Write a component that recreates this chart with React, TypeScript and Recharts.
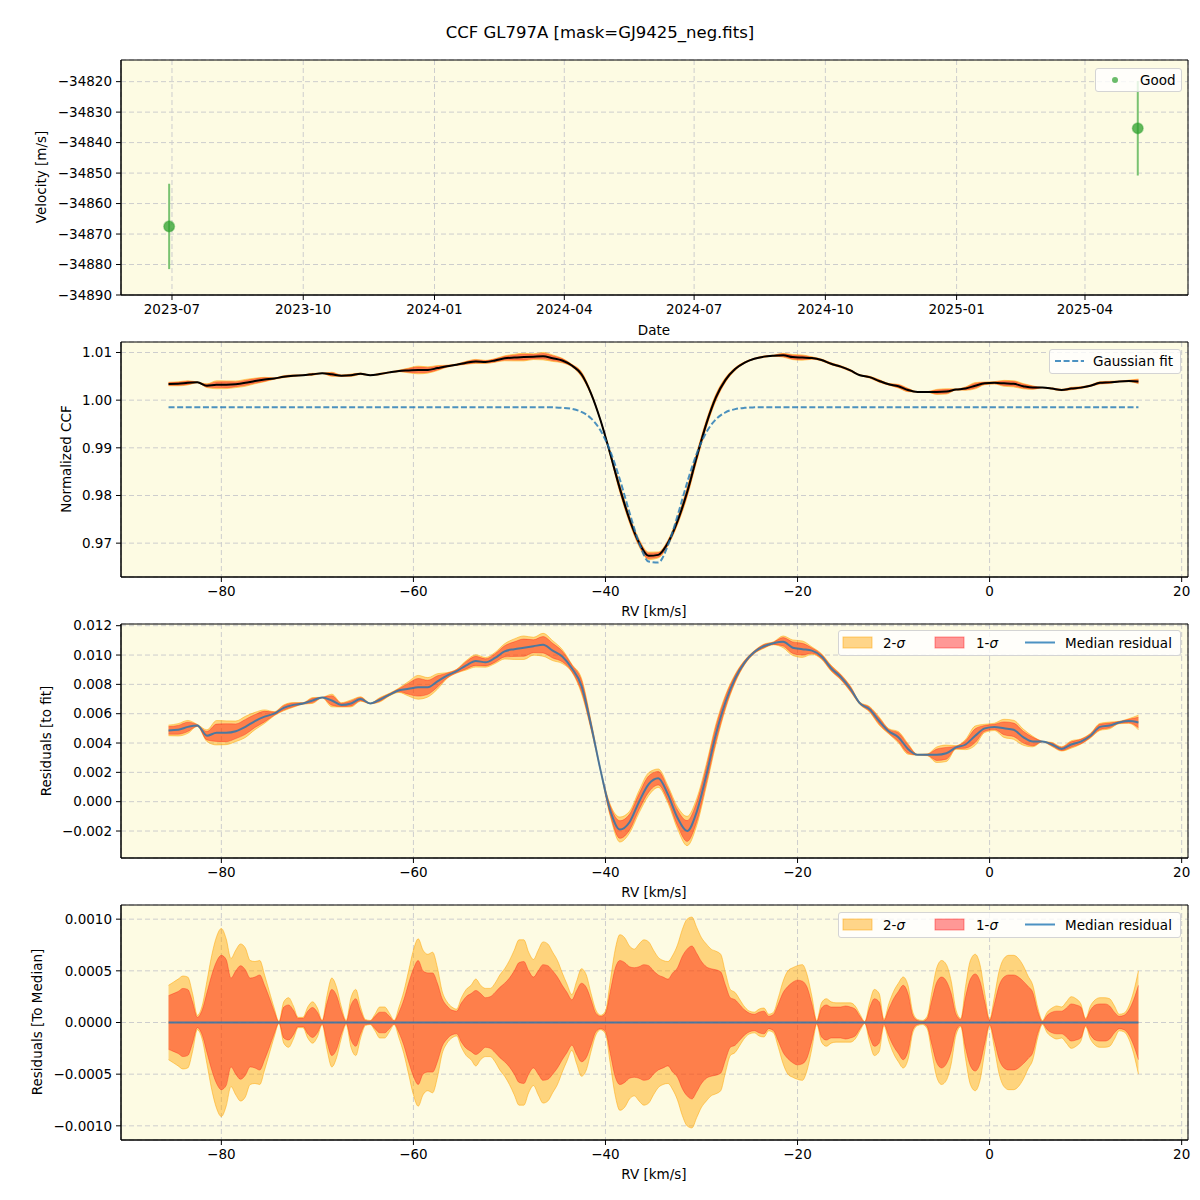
import React from 'react';
import {
  ComposedChart,
  Line,
  Area,
  Scatter,
  ErrorBar,
  XAxis,
  YAxis,
  ZAxis,
  CartesianGrid,
  ReferenceArea,
} from 'recharts';

// ---- top panel: velocity per epoch ----
const obsDates = ['2023-06-29', '2025-05-08'];
const obsVelocity = [-34867.5, -34835.3];
const obsError = [14.0, 15.5];
const dateTicks = [
  '2023-07-01', '2023-10-01', '2024-01-01', '2024-04-01',
  '2024-07-01', '2024-10-01', '2025-01-01', '2025-04-01',
];
const velTicks = [-34890, -34880, -34870, -34860, -34850, -34840, -34830, -34820];

// ---- CCF grid (0.5 km/s) and spread of the CCFs around the median, in units of 1e-4 ----
const rvFine = [
  -85.5, -85, -84.5, -84, -83.5, -83, -82.5, -82, -81.5, -81,
  -80.5, -80, -79.5, -79, -78.5, -78, -77.5, -77, -76.5, -76,
  -75.5, -75, -74.5, -74, -73.5, -73, -72.5, -72, -71.5, -71,
  -70.5, -70, -69.5, -69, -68.5, -68, -67.5, -67, -66.5, -66,
  -65.5, -65, -64.5, -64, -63.5, -63, -62.5, -62, -61.5, -61,
  -60.5, -60, -59.5, -59, -58.5, -58, -57.5, -57, -56.5, -56,
  -55.5, -55, -54.5, -54, -53.5, -53, -52.5, -52, -51.5, -51,
  -50.5, -50, -49.5, -49, -48.5, -48, -47.5, -47, -46.5, -46,
  -45.5, -45, -44.5, -44, -43.5, -43, -42.5, -42, -41.5, -41,
  -40.5, -40, -39.5, -39, -38.5, -38, -37.5, -37, -36.5, -36,
  -35.5, -35, -34.5, -34, -33.5, -33, -32.5, -32, -31.5, -31,
  -30.5, -30, -29.5, -29, -28.5, -28, -27.5, -27, -26.5, -26,
  -25.5, -25, -24.5, -24, -23.5, -23, -22.5, -22, -21.5, -21,
  -20.5, -20, -19.5, -19, -18.5, -18, -17.5, -17, -16.5, -16,
  -15.5, -15, -14.5, -14, -13.5, -13, -12.5, -12, -11.5, -11,
  -10.5, -10, -9.5, -9, -8.5, -8, -7.5, -7, -6.5, -6,
  -5.5, -5, -4.5, -4, -3.5, -3, -2.5, -2, -1.5, -1,
  -0.5, 0, 0.5, 1, 1.5, 2, 2.5, 3, 3.5, 4,
  4.5, 5, 5.5, 6, 6.5, 7, 7.5, 8, 8.5, 9,
  9.5, 10, 10.5, 11, 11.5, 12, 12.5, 13, 13.5, 14,
  14.5, 15, 15.5,
];
const sigma2 = [
  3.6, 3.9, 4.2, 4.5, 4.4, 2.8, 0.7, 1.6, 4.0, 6.5,
  8.3, 9.1, 8.1, 6.2, 7.0, 7.6, 7.2, 6.0, 5.9, 6.0,
  4.6, 3.0, 1.4, 0.1, 2.0, 2.4, 1.6, 0.5, 0.5, 1.5,
  2.0, 1.4, 0.2, 2.6, 4.3, 3.4, 1.5, 0.2, 2.4, 3.2,
  1.5, 0.3, 0.2, 0.8, 1.5, 1.5, 0.9, 0.2, 1.5, 3.0,
  5.0, 7.0, 8.1, 7.0, 6.6, 6.8, 5.3, 3.0, 2.0, 1.5,
  1.3, 2.4, 3.2, 3.6, 4.2, 3.6, 3.3, 3.3, 3.8, 4.6,
  5.2, 6.0, 7.0, 8.0, 8.0, 6.8, 6.1, 7.0, 7.8, 7.6,
  6.8, 6.0, 4.8, 3.7, 2.7, 4.0, 5.2, 4.6, 2.8, 1.2,
  0.7, 1.1, 4.0, 7.0, 8.5, 8.2, 7.4, 7.1, 7.6, 8.0,
  7.8, 7.0, 6.3, 6.0, 5.9, 6.5, 7.5, 9.0, 10.0, 10.2,
  9.2, 8.2, 7.6, 7.1, 6.9, 6.6, 4.8, 3.2, 2.9, 2.2,
  1.5, 1.1, 1.0, 1.3, 1.4, 0.8, 1.0, 2.4, 4.0, 5.0,
  5.3, 5.5, 5.6, 4.6, 2.5, 0.2, 1.9, 2.3, 2.0, 1.9,
  1.9, 1.9, 1.9, 1.6, 0.8, 0.1, 1.9, 3.2, 2.8, 0.3,
  1.8, 3.0, 3.8, 4.4, 3.6, 1.0, 0.3, 0.2, 0.6, 3.0,
  5.3, 6.0, 5.6, 4.0, 1.2, 0.4, 3.5, 6.0, 6.6, 5.6,
  2.8, 0.3, 2.5, 5.0, 6.2, 6.5, 6.5, 6.2, 5.5, 4.5,
  3.6, 1.5, 0.2, 1.0, 1.4, 1.6, 1.5, 2.0, 2.5, 2.3,
  1.8, 0.4, 1.6, 2.2, 2.4, 2.4, 2.3, 1.6, 0.8, 0.9,
  1.6, 3.0, 5.0,
];
const sigma1 = [
  2.6, 2.8, 3.0, 3.3, 3.2, 2.0, 0.5, 1.2, 2.9, 4.6,
  5.9, 6.5, 6.1, 4.3, 5.0, 5.5, 5.1, 4.3, 4.4, 4.6,
  3.6, 2.4, 1.1, 0.05, 1.5, 1.7, 1.2, 0.4, 0.4, 1.1,
  1.45, 1.0, 0.15, 1.9, 3.2, 2.6, 1.1, 0.1, 1.7, 2.3,
  1.1, 0.2, 0.15, 0.6, 1.0, 1.0, 0.6, 0.15, 1.0, 2.2,
  3.8, 5.2, 6.0, 5.0, 4.8, 4.8, 3.8, 2.3, 1.6, 1.2,
  1.1, 1.9, 2.5, 2.8, 3.1, 2.8, 2.4, 2.5, 2.9, 3.4,
  3.8, 4.3, 5.0, 5.8, 5.9, 5.0, 4.4, 5.0, 5.6, 5.5,
  5.0, 4.4, 3.6, 2.9, 2.2, 3.1, 3.8, 3.4, 2.2, 0.9,
  0.6, 0.9, 3.0, 5.2, 6.0, 5.8, 5.4, 5.3, 5.4, 5.6,
  5.5, 5.0, 4.6, 4.4, 4.2, 4.8, 5.3, 6.4, 7.1, 7.4,
  6.7, 5.9, 5.4, 5.2, 5.1, 4.9, 3.6, 2.4, 2.2, 1.7,
  1.2, 0.9, 0.8, 1.0, 1.1, 0.6, 0.8, 1.8, 2.9, 3.5,
  3.9, 4.1, 4.0, 3.4, 1.8, 0.1, 1.4, 1.7, 1.5, 1.5,
  1.5, 1.6, 1.5, 1.3, 0.6, 0.05, 1.4, 2.3, 2.0, 0.2,
  1.3, 2.3, 3.0, 3.6, 2.8, 0.7, 0.2, 0.1, 0.4, 2.2,
  3.9, 4.4, 4.0, 2.8, 0.8, 0.3, 2.5, 4.2, 4.7, 4.0,
  2.0, 0.2, 1.8, 3.6, 4.4, 4.6, 4.6, 4.4, 4.0, 3.5,
  2.9, 1.1, 0.1, 0.7, 1.0, 1.1, 1.1, 1.4, 1.8, 1.7,
  1.5, 0.3, 1.2, 1.7, 1.8, 1.8, 1.6, 1.0, 0.6, 0.7,
  1.2, 2.2, 3.6,
];

// ---- coarse grid (1 km/s): gaussian fit and median residual to it ----
const rvCoarse = [
  -85.5, -84.5, -83.5, -82.5, -81.5, -80.5, -79.5, -78.5, -77.5, -76.5,
  -75.5, -74.5, -73.5, -72.5, -71.5, -70.5, -69.5, -68.5, -67.5, -66.5,
  -65.5, -64.5, -63.5, -62.5, -61.5, -60.5, -59.5, -58.5, -57.5, -56.5,
  -55.5, -54.5, -53.5, -52.5, -51.5, -50.5, -49.5, -48.5, -47.5, -46.5,
  -45.5, -44.5, -43.5, -42.5, -41.5, -40.5, -39.5, -38.5, -37.5, -36.5,
  -35.5, -34.5, -33.5, -32.5, -31.5, -30.5, -29.5, -28.5, -27.5, -26.5,
  -25.5, -24.5, -23.5, -22.5, -21.5, -20.5, -19.5, -18.5, -17.5, -16.5,
  -15.5, -14.5, -13.5, -12.5, -11.5, -10.5, -9.5, -8.5, -7.5, -6.5,
  -5.5, -4.5, -3.5, -2.5, -1.5, -0.5, 0.5, 1.5, 2.5, 3.5,
  4.5, 5.5, 6.5, 7.5, 8.5, 9.5, 10.5, 11.5, 12.5, 13.5,
  14.5, 15.5,
];
const medianResidual = [
  0.00486, 0.0049, 0.0051, 0.0052, 0.0045, 0.0047, 0.0047, 0.0048, 0.0051, 0.0055,
  0.0058, 0.006, 0.0064, 0.0066, 0.0067, 0.0069, 0.0071, 0.0069, 0.0066, 0.0067,
  0.007, 0.0067, 0.00695, 0.0073, 0.0076, 0.0077, 0.0078, 0.0078, 0.0082, 0.0086,
  0.0089, 0.0093, 0.0096, 0.0095, 0.0098, 0.01025, 0.0104, 0.0105, 0.0106, 0.0107,
  0.0103, 0.0099, 0.0091, 0.0079, 0.0052, 0.0021, -0.0006, -0.0019, -0.0014, 0.0,
  0.0012, 0.0016, 0.0005, -0.0011, -0.002, -0.0007, 0.0018, 0.0046, 0.0068, 0.0084,
  0.0095, 0.0102, 0.0106, 0.0108, 0.0109, 0.0105, 0.0104, 0.0103, 0.0099, 0.0091,
  0.0085, 0.0077, 0.0067, 0.0063, 0.0055, 0.0048, 0.0044, 0.0036, 0.0032, 0.0032,
  0.0032, 0.0033, 0.0037, 0.0039, 0.0045, 0.005, 0.0051, 0.005, 0.0049, 0.0044,
  0.0041, 0.0041, 0.0039, 0.0036, 0.0039, 0.0041, 0.0045, 0.0051, 0.0052, 0.0054,
  0.0055, 0.0054,
];
const gaussFit = [
  0.99853, 0.99853, 0.99853, 0.99853, 0.99853, 0.99853, 0.99853, 0.99853, 0.99853, 0.99853,
  0.99853, 0.99853, 0.99853, 0.99853, 0.99853, 0.99853, 0.99853, 0.99853, 0.99853, 0.99853,
  0.99853, 0.99853, 0.99853, 0.99853, 0.99853, 0.99853, 0.99853, 0.99853, 0.99853, 0.99853,
  0.99853, 0.99853, 0.99853, 0.99853, 0.99853, 0.99853, 0.99853, 0.99853, 0.99853, 0.99853,
  0.9985, 0.99841, 0.99816, 0.99754, 0.99618, 0.99357, 0.9893, 0.98334, 0.97642, 0.97007,
  0.96614, 0.96594, 0.96954, 0.97572, 0.98267, 0.98878, 0.99323, 0.99598, 0.99745, 0.99812,
  0.99839, 0.99849, 0.99853, 0.99853, 0.99853, 0.99853, 0.99853, 0.99853, 0.99853, 0.99853,
  0.99853, 0.99853, 0.99853, 0.99853, 0.99853, 0.99853, 0.99853, 0.99853, 0.99853, 0.99853,
  0.99853, 0.99853, 0.99853, 0.99853, 0.99853, 0.99853, 0.99853, 0.99853, 0.99853, 0.99853,
  0.99853, 0.99853, 0.99853, 0.99853, 0.99853, 0.99853, 0.99853, 0.99853, 0.99853, 0.99853,
  0.99853, 0.99853,
];

const rvTicks = [-80, -60, -40, -20, 0, 20];
const ccfTicks = [0.97, 0.98, 0.99, 1.0, 1.01];
const resTicks = [-0.002, 0, 0.002, 0.004, 0.006, 0.008, 0.01, 0.012];
const medTicks = [-0.001, -0.0005, 0, 0.0005, 0.001];

const BG = '#fdfbe3';
const GRID = '#cdcdcd';
const ORANGE = '#ffa500';
const RED = '#ff0000';
const C0 = '#1f77b4';
const GREEN = '#2ca02c';
const FONT = '"DejaVu Sans", Verdana, sans-serif';
const TICK = { fill: '#000', fontSize: 13.5 };

const minus = (s: string) => s.replace('-', '\u2212');

const velRows = obsDates.map((d, i) => ({ t: Date.parse(d), v: obsVelocity[i], err: obsError[i] }));
const tDomain = [Date.parse('2023-05-26T06:00:00Z'), Date.parse('2025-06-12T05:00:00Z')];

const ccfRows = rvCoarse.map((rv, i) => {
  const s2 = sigma2[2 * i] * 1e-4;
  const s1 = sigma1[2 * i] * 1e-4;
  const ccf = gaussFit[i] + medianResidual[i];
  const res = medianResidual[i];
  return {
    rv,
    fit: gaussFit[i],
    ccf,
    res,
    c2: [ccf - s2, ccf + s2],
    c1: [ccf - s1, ccf + s1],
    r2: [res - s2, res + s2],
    r1: [res - s1, res + s1],
  };
});

const spreadRows = rvFine.map((rv, i) => ({
  rv,
  zero: 0,
  b2: [-sigma2[i] * 1e-4, sigma2[i] * 1e-4],
  b1: [-sigma1[i] * 1e-4, sigma1[i] * 1e-4],
}));

const RV_DOMAIN = [-90.45, 20.66];
const MARGIN = { top: 10, right: 12, bottom: 0, left: 0 };

function Text({ x, y, size = 13.5, rotate = false, children }: any) {
  return (
    <div
      style={{
        position: 'absolute',
        left: x,
        top: y,
        fontSize: size,
        whiteSpace: 'nowrap',
        transform: `translate(-50%, -50%)${rotate ? ' rotate(-90deg)' : ''}`,
      }}
    >
      {children}
    </div>
  );
}

function Box({ left, top, width, height, children }: any) {
  return (
    <div
      style={{
        position: 'absolute',
        left,
        top,
        width,
        height,
        boxSizing: 'border-box',
        background: 'rgba(255,255,255,0.8)',
        border: '1px solid #d4d4d4',
        borderRadius: 3,
        fontSize: 13.5,
      }}
    >
      {children}
    </div>
  );
}

function SigmaLegend({ top }: { top: number }) {
  const item = (left: number, content: React.ReactNode) => (
    <div style={{ position: 'absolute', left, top: 0, lineHeight: '24px' }}>{content}</div>
  );
  return (
    <Box left={838} top={top} width={343} height={26}>
      <svg width={343} height={24} style={{ position: 'absolute', left: 0, top: 0 }}>
        <rect x={4} y={6} width={29} height={11} fill={ORANGE} fillOpacity={0.45} stroke={ORANGE} strokeOpacity={0.5} />
        <rect x={96} y={6} width={29} height={11} fill={RED} fillOpacity={0.4} stroke={RED} strokeOpacity={0.4} />
        <line x1={186} x2={216} y1={11.5} y2={11.5} stroke={C0} strokeOpacity={0.8} strokeWidth={2} />
      </svg>
      {item(44, <span>2-<i>σ</i></span>)}
      {item(137, <span>1-<i>σ</i></span>)}
      {item(226, 'Median residual')}
    </Box>
  );
}

function frame(x1: number, x2: number, y1: number, y2: number) {
  return <ReferenceArea x1={x1} x2={x2} y1={y1} y2={y2} fill="none" stroke="#000" strokeWidth={1} ifOverflow="visible" />;
}

const xRv = (
  <XAxis
    type="number"
    dataKey="rv"
    domain={RV_DOMAIN}
    ticks={rvTicks}
    interval={0}
    allowDataOverflow
    height={30}
    tickSize={5}
    tickMargin={4}
    stroke="#000"
    tick={TICK}
    tickFormatter={(v: number) => minus(String(v))}
  />
);

export default function App() {
  const ccfDom = [0.9629, 1.0122];
  const resDom = [-0.00384, 0.012116];
  const medDom = [-0.001137, 0.001137];
  const velDom = [-34890, -34812.9];

  return (
    <div
      style={{
        position: 'absolute',
        left: 0,
        top: 0,
        width: 1200,
        height: 1200,
        background: '#fff',
        fontFamily: FONT,
        color: '#000',
      }}
    >
      <Text x={600} y={32} size={16.5}>CCF GL797A [mask=GJ9425_neg.fits]</Text>

      {/* panel 1: velocities */}
      <div style={{ position: 'absolute', left: 0, top: 50 }}>
        <ComposedChart width={1200} height={275} data={velRows} margin={MARGIN}>
          <CartesianGrid stroke={GRID} strokeDasharray="5 3" fill={BG} />
          <XAxis
            type="number"
            dataKey="t"
            domain={tDomain}
            ticks={dateTicks.map((d) => Date.parse(d))}
            interval={0}
            allowDataOverflow
            height={30}
            tickSize={5}
            tickMargin={4}
            stroke="#000"
            tick={TICK}
            tickFormatter={(v: number) => new Date(v).toISOString().slice(0, 7)}
          />
          <YAxis
            type="number"
            domain={velDom}
            ticks={velTicks}
            interval={0}
            allowDataOverflow
            width={121}
            tickSize={5}
            tickMargin={4}
            stroke="#000"
            tick={TICK}
            tickFormatter={(v: number) => minus(String(v))}
          />
          <ZAxis range={[90, 90]} />
          <Scatter dataKey="v" fill={GREEN} fillOpacity={0.75} stroke={GREEN} strokeOpacity={0.4} strokeWidth={1.5} isAnimationActive={false}>
            <ErrorBar dataKey="err" direction="y" width={0} stroke="#79c271" strokeWidth={2} />
          </Scatter>
          {frame(tDomain[0], tDomain[1], velDom[0], velDom[1])}
        </ComposedChart>
      </div>
      <Text x={41} y={177} rotate>Velocity [m/s]</Text>
      <Text x={654} y={330}>Date</Text>
      <Box left={1095} top={68} width={87} height={24}>
        <svg width={40} height={22} style={{ position: 'absolute', left: 0, top: 0 }}>
          <circle cx={19} cy={11} r={3} fill={GREEN} fillOpacity={0.7} />
        </svg>
        <div style={{ position: 'absolute', left: 44, top: 0, lineHeight: '22px' }}>Good</div>
      </Box>

      {/* panel 2: normalized CCF */}
      <div style={{ position: 'absolute', left: 0, top: 332 }}>
        <ComposedChart width={1200} height={275} data={ccfRows} margin={MARGIN}>
          <CartesianGrid stroke={GRID} strokeDasharray="5 3" fill={BG} />
          {xRv}
          <YAxis
            type="number"
            domain={ccfDom}
            ticks={ccfTicks}
            interval={0}
            allowDataOverflow
            width={121}
            tickSize={5}
            tickMargin={4}
            stroke="#000"
            tick={TICK}
            tickFormatter={(v: number) => v.toFixed(2)}
          />
          <Area dataKey="c2" type="monotone" fill={ORANGE} fillOpacity={0.45} stroke={ORANGE} strokeOpacity={0.5} isAnimationActive={false} />
          <Area dataKey="c1" type="monotone" fill={RED} fillOpacity={0.4} stroke={RED} strokeOpacity={0.3} isAnimationActive={false} />
          <Line dataKey="ccf" type="monotone" stroke="#000" strokeWidth={2} dot={false} activeDot={false} isAnimationActive={false} />
          <Line dataKey="fit" type="monotone" stroke={C0} strokeOpacity={0.8} strokeWidth={2} strokeDasharray="6 2.6" dot={false} activeDot={false} isAnimationActive={false} />
          {frame(RV_DOMAIN[0], RV_DOMAIN[1], ccfDom[0], ccfDom[1])}
        </ComposedChart>
      </div>
      <Text x={66} y={459} rotate>Normalized CCF</Text>
      <Text x={654} y={611}>RV [km/s]</Text>
      <Box left={1049} top={349} width={132} height={25}>
        <svg width={40} height={23} style={{ position: 'absolute', left: 0, top: 0 }}>
          <line x1={5} x2={34} y1={11} y2={11} stroke={C0} strokeOpacity={0.8} strokeWidth={2} strokeDasharray="6 2.6" />
        </svg>
        <div style={{ position: 'absolute', left: 43, top: 0, lineHeight: '23px' }}>Gaussian fit</div>
      </Box>

      {/* panel 3: residuals to the fit */}
      <div style={{ position: 'absolute', left: 0, top: 614 }}>
        <ComposedChart width={1200} height={274} data={ccfRows} margin={MARGIN}>
          <CartesianGrid stroke={GRID} strokeDasharray="5 3" fill={BG} />
          {xRv}
          <YAxis
            type="number"
            domain={resDom}
            ticks={resTicks}
            interval={0}
            allowDataOverflow
            width={121}
            tickSize={5}
            tickMargin={4}
            stroke="#000"
            tick={TICK}
            tickFormatter={(v: number) => minus(v.toFixed(3))}
          />
          <Area dataKey="r2" type="monotone" fill={ORANGE} fillOpacity={0.45} stroke={ORANGE} strokeOpacity={0.5} isAnimationActive={false} />
          <Area dataKey="r1" type="monotone" fill={RED} fillOpacity={0.4} stroke={RED} strokeOpacity={0.3} isAnimationActive={false} />
          <Line dataKey="res" type="monotone" stroke={C0} strokeOpacity={0.8} strokeWidth={2} dot={false} activeDot={false} isAnimationActive={false} />
          {frame(RV_DOMAIN[0], RV_DOMAIN[1], resDom[0], resDom[1])}
        </ComposedChart>
      </div>
      <Text x={46} y={741} rotate>Residuals [to fit]</Text>
      <Text x={654} y={892}>RV [km/s]</Text>
      <SigmaLegend top={630} />

      {/* panel 4: residuals to the median */}
      <div style={{ position: 'absolute', left: 0, top: 895 }}>
        <ComposedChart width={1200} height={275} data={spreadRows} margin={MARGIN}>
          <CartesianGrid stroke={GRID} strokeDasharray="5 3" fill={BG} />
          {xRv}
          <YAxis
            type="number"
            domain={medDom}
            ticks={medTicks}
            interval={0}
            allowDataOverflow
            width={121}
            tickSize={5}
            tickMargin={4}
            stroke="#000"
            tick={TICK}
            tickFormatter={(v: number) => minus(v.toFixed(4))}
          />
          <Area dataKey="b2" type="monotone" fill={ORANGE} fillOpacity={0.45} stroke={ORANGE} strokeOpacity={0.5} isAnimationActive={false} />
          <Area dataKey="b1" type="monotone" fill={RED} fillOpacity={0.4} stroke={RED} strokeOpacity={0.3} isAnimationActive={false} />
          <Line dataKey="zero" stroke={C0} strokeOpacity={0.8} strokeWidth={2} dot={false} activeDot={false} isAnimationActive={false} />
          {frame(RV_DOMAIN[0], RV_DOMAIN[1], medDom[0], medDom[1])}
        </ComposedChart>
      </div>
      <Text x={37} y={1022} rotate>Residuals [To Median]</Text>
      <Text x={654} y={1174}>RV [km/s]</Text>
      <SigmaLegend top={912} />
    </div>
  );
}
